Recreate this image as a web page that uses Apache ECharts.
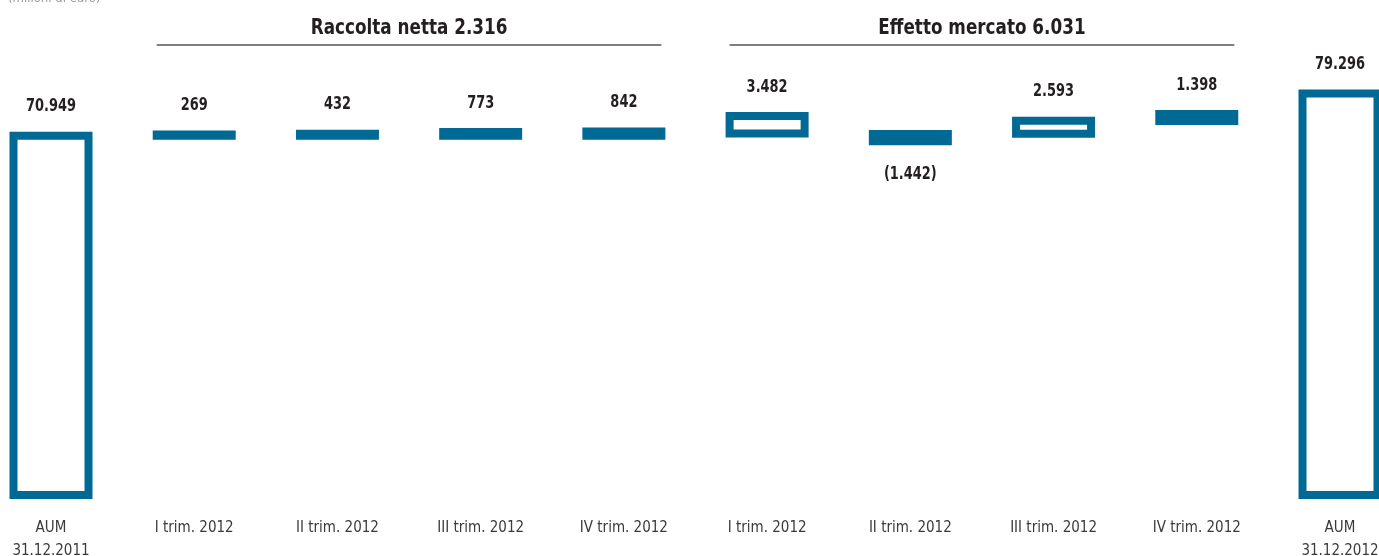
<!DOCTYPE html>
<html>
<head>
<meta charset="utf-8">
<script src="https://cdn.jsdelivr.net/npm/echarts@6/dist/echarts.min.js"></script>
<style>
html,body{margin:0;padding:0;background:#fff;}
#c{width:1379px;height:556px;}
</style>
</head>
<body>
<div id="c"></div>
<script>
// ---- data (milioni di euro) ----
const categories = ['AUM\n31.12.2011', 'I trim. 2012', 'II trim. 2012', 'III trim. 2012', 'IV trim. 2012',
                    'I trim. 2012', 'II trim. 2012', 'III trim. 2012', 'IV trim. 2012', 'AUM\n31.12.2012'];
const aumStart = 70949;
const aumEnd = 79296;
const raccolta = [269, 432, 773, 842];
const mercato = [3482, -1442, 2593, 1398];
const groupNames = ['Raccolta netta', 'Effetto mercato'];
const groupTotals = [2316, 6031];
// level each quarterly bar starts from, as drawn in the original (not strictly cumulative)
const raccoltaStart = [70949, 70949, 70949, 70949];
const mercatoStart = [71400, 71300, 71350, 73870];
const unitLabel = '(milioni di euro)';

// ---- styling ----
const BLUE = '#006994';
const FONT = '"Liberation Sans Narrow", "DejaVu Sans Condensed", "Liberation Sans", sans-serif';
const hollowIdx = [0, 5, 7, 9];
const BAR_W = 75, BORDER = 8;

function fmt(v) {
  const s = Math.abs(v).toString().replace(/\B(?=(\d{3})+(?!\d))/g, '.');
  return v < 0 ? '(' + s + ')' : s;
}

const signed = [aumStart].concat(raccolta, mercato, [aumEnd]);
const starts = [0].concat(raccoltaStart, mercatoStart, [0]);
// [categoryIndex, low, high, signedValue]
const barData = signed.map((v, i) => [i, starts[i], starts[i] + v, v]);

function renderItem(params, api) {
  const i = api.value(0);
  const a = api.coord([i, api.value(1)]);
  const b = api.coord([i, api.value(2)]);
  const v = api.value(3);
  const top = Math.min(a[1], b[1]);
  const bot = Math.max(a[1], b[1]);
  const hollow = hollowIdx.indexOf(i) >= 0;
  const outerTop = top - BORDER / 2, outerBot = bot + BORDER / 2;
  const ty = v < 0 ? outerBot + 29 : outerTop - 25;
  return {
    type: 'group',
    children: [
      { type: 'rect', shape: { x: a[0] - BAR_W / 2, y: top, width: BAR_W, height: bot - top },
        style: { fill: hollow ? '#ffffff' : BLUE, stroke: BLUE, lineWidth: BORDER } },
      { type: 'text', x: a[0], y: ty, scaleX: 0.8,
        style: { text: fmt(v), fontFamily: FONT, fontSize: 18, fontWeight: 'bold', fill: '#231f20',
                 align: 'center', verticalAlign: 'middle' } }
    ]
  };
}

const chart = echarts.init(document.getElementById('c'), null, { renderer: 'canvas' });
chart.setOption({
  animation: false,
  grid: { left: 51, right: 39, top: 90, bottom: 61, outerBoundsMode: 'none', containLabel: false },
  xAxis: {
    type: 'category',
    data: categories,
    boundaryGap: false,
    axisLine: { show: false },
    axisTick: { show: false },
    axisLabel: {
      interval: 0, margin: 22, fontFamily: FONT, fontSize: 15, color: '#3a3a3a', lineHeight: 23,
      hideOverlap: false
    }
  },
  yAxis: { type: 'value', min: 0, max: 80000, show: false },
  series: [
    { type: 'custom', renderItem: renderItem, data: barData, clip: false,
      encode: { x: 0, y: [1, 2] } }
  ]
});

function drawGroups() {
  const half = BAR_W / 2;
  const groups = [[1, 4], [5, 8]];
  const g = [];
  groups.forEach((r, k) => {
    const x1 = chart.convertToPixel({ xAxisIndex: 0 }, r[0]) - half;
    const x2 = chart.convertToPixel({ xAxisIndex: 0 }, r[1]) + half;
    g.push({ type: 'line', shape: { x1: x1, y1: 45, x2: x2, y2: 45 }, style: { stroke: '#555', lineWidth: 1.5 } });
    g.push({ type: 'text', x: (x1 + x2) / 2, y: 28, scaleX: 0.85,
      style: { text: groupNames[k] + ' ' + fmt(groupTotals[k]), fontFamily: FONT, fontSize: 22, fontWeight: 'bold',
               fill: '#231f20', textAlign: 'center', textVerticalAlign: 'middle' } });
  });
  g.push({ type: 'text', x: 8, y: -1, style: { text: unitLabel, fontFamily: FONT, fontSize: 13, fill: '#9a9a9a',
           textAlign: 'left', textVerticalAlign: 'middle' } });
  chart.setOption({ graphic: g });
}
drawGroups();
</script>
</body>
</html>
